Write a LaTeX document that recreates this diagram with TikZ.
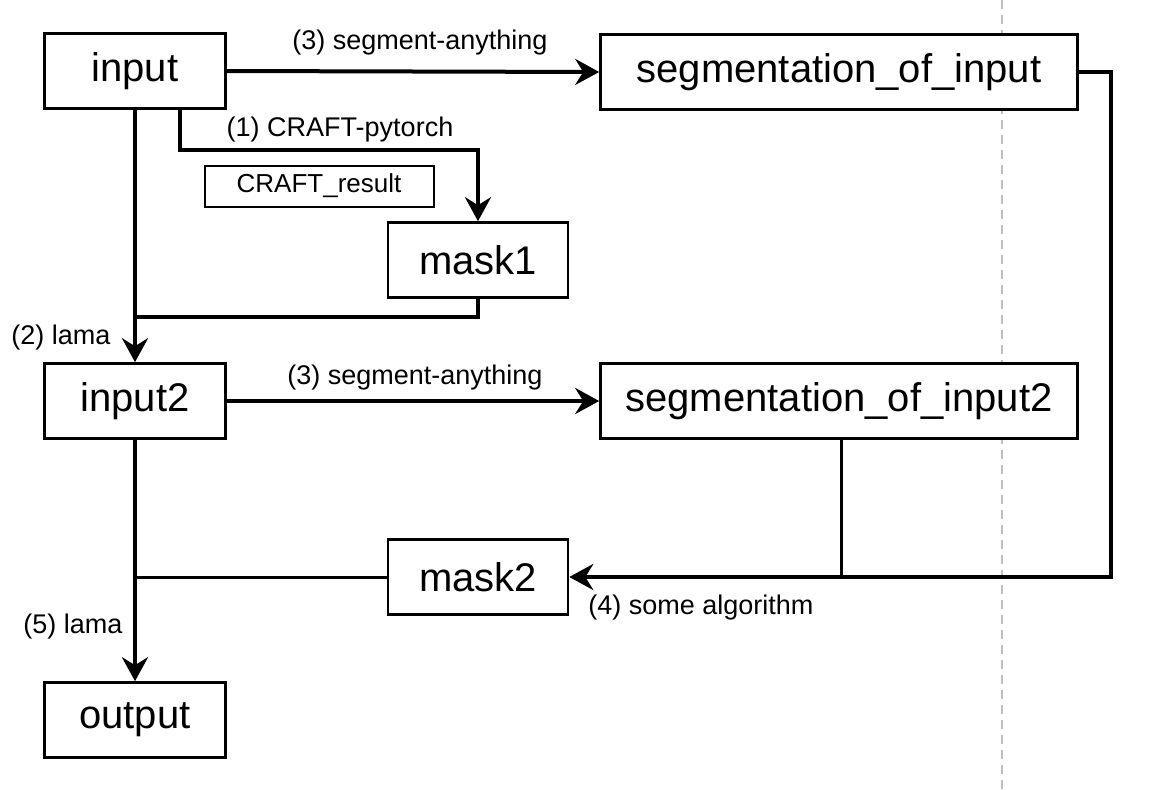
\documentclass[tikz,border=0pt]{standalone}
\usepackage{fontspec}
\setmainfont{Liberation Sans}
\usetikzlibrary{arrows.meta}
\definecolor{dashgray}{HTML}{BFBFBF}
\tikzset{
  box/.style={draw=black, fill=white, line width=2.6pt, inner sep=0pt, minimum height=75pt,
    font=\fontsize{40}{46}\selectfont},
  smallbox/.style={draw=black, fill=white, line width=2pt, inner sep=0pt, minimum width=229pt, minimum height=41pt,
    font=\fontsize{26}{30}\selectfont},
  lbl/.style={inner sep=0pt, font=\fontsize{27}{31}\selectfont},
  conn/.style={draw=black, line width=4pt},
  thinconn/.style={draw=black, line width=3pt},
  tip/.style={-{Stealth[length=24pt, width=26pt, inset=8pt]}}
}
\begin{document}
\begin{tikzpicture}[x=1pt, y=-1pt]
\useasboundingbox (0,0) rectangle (1160,790);
% dashed page divider
\draw[dashgray, line width=1.6pt, dash pattern=on 9pt off 6pt] (1002,0) -- (1002,790);

% nodes
\node[box, minimum width=181pt] (input) at (135,71) {input};
\node[box, minimum width=477pt] (seg1) at (839,72) {segmentation\_of\_input};
\node[smallbox] (craft) at (319,186) {CRAFT\_result};
\node[box, minimum width=180pt] (mask1) at (478,260) {mask1};
\node[box, minimum width=181pt] (input2) at (135,401) {input2};
\node[box, minimum width=477pt] (seg2) at (839,401) {segmentation\_of\_input2};
\node[box, minimum width=180pt] (mask2) at (478,577) {mask2};
\node[box, minimum width=181pt] (output) at (135,720) {output};

% helper coordinates
\coordinate (k1) at (180,150);
\coordinate (j1) at (135,317);
\coordinate (j2) at (135,577);
\coordinate (j3) at (1111,577);
\coordinate (j4) at (841,577);

% connectors
\draw[conn, tip] (input.east) -- (seg1.west);
\draw[conn, tip] ([xshift=45pt]input.south) -- (k1) -| (mask1.north);
\draw[conn, tip] (input.south) -- (input2.north);
\draw[conn] (mask1.south) |- (j1);
\draw[conn, tip] (input2.east) -- (seg2.west);
\draw[thinconn] ([xshift=2pt]seg2.south) -- (j4);
\draw[conn, tip] (seg1.east) -| (j3) -- (mask2.east);
\draw[thinconn] (mask2.west) -- (j2);
\draw[conn, tip] (input2.south) -- (output.north);

% labels
\node[lbl] (l1) at (420,43) {(3) segment-anything};
\node[lbl] (l2) at (340,130) {(1) CRAFT-pytorch};
\node[lbl] (l3) at (61,338) {(2) lama};
\node[lbl] (l4) at (415,378) {(3) segment-anything};
\node[lbl] (l5) at (73,627) {(5) lama};
\node[lbl] (l6) at (701,608) {(4) some algorithm};
\end{tikzpicture}
\end{document}
